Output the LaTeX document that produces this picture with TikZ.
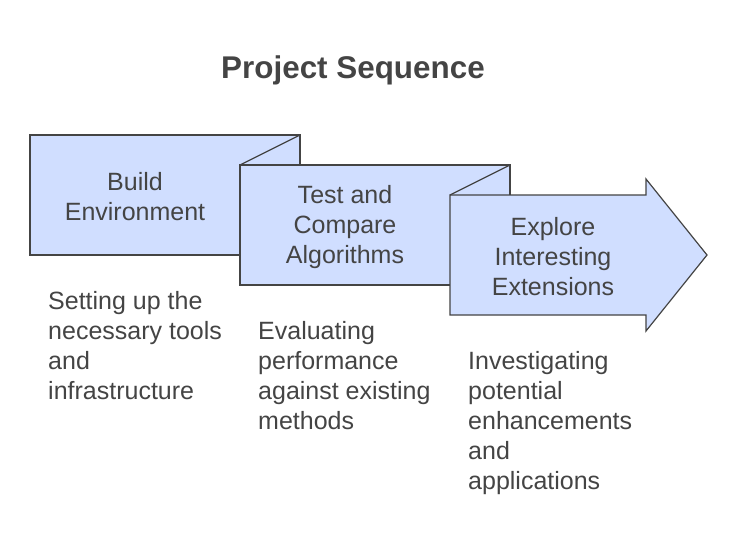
\documentclass[tikz,border=0pt]{standalone}
\usepackage{fontspec}
\setmainfont{Liberation Sans}
\usepackage{xcolor}
\usepackage{tikz}
\usetikzlibrary{positioning}

\definecolor{boxfill}{RGB}{208,222,255}
\definecolor{inkgray}{RGB}{68,68,68}

\begin{document}
\begin{tikzpicture}[x=1pt,y=-1pt,
  stepshape/.style={fill=boxfill,draw=inkgray,line width=1.2pt,line join=miter},
  steplabel/.style={align=center,text=inkgray,font=\fontsize{25}{30}\selectfont},
  stepnote/.style={align=left,anchor=north west,inner sep=0pt,text=inkgray,font=\fontsize{25}{30}\selectfont}]
\useasboundingbox (0,0) rectangle (737,557);

\node[text=inkgray,font=\fontsize{31.4}{36}\selectfont\bfseries] (title) at (353,70) {Project Sequence};

\draw[stepshape] (30,135) rectangle (300,255);
\draw[stepshape] (240,165) rectangle (510,285);
\draw[stepshape] (450,195) -- (646,195) -- (646,179) -- (707,255) -- (646,331) -- (646,315) -- (450,315) -- cycle;
\draw[inkgray,line width=1.2pt] (300,135) -- (240,165);
\draw[inkgray,line width=1.2pt] (510,165) -- (450,195);

\node[steplabel] (build) at (135,197) {Build\\Environment};
\node[steplabel] (test) at (345,227) {Test and\\Compare\\Algorithms};
\node[steplabel] (explore) at (553,257) {Explore\\Interesting\\Extensions};

\node[stepnote] (buildnote) at (48,291) {Setting up the\\necessary tools\\and\\infrastructure};
\node[stepnote] (testnote) at (258,321) {Evaluating\\performance\\against existing\\methods};
\node[stepnote] (explorenote) at (468,351) {Investigating\\potential\\enhancements\\and\\applications};
\end{tikzpicture}
\end{document}
